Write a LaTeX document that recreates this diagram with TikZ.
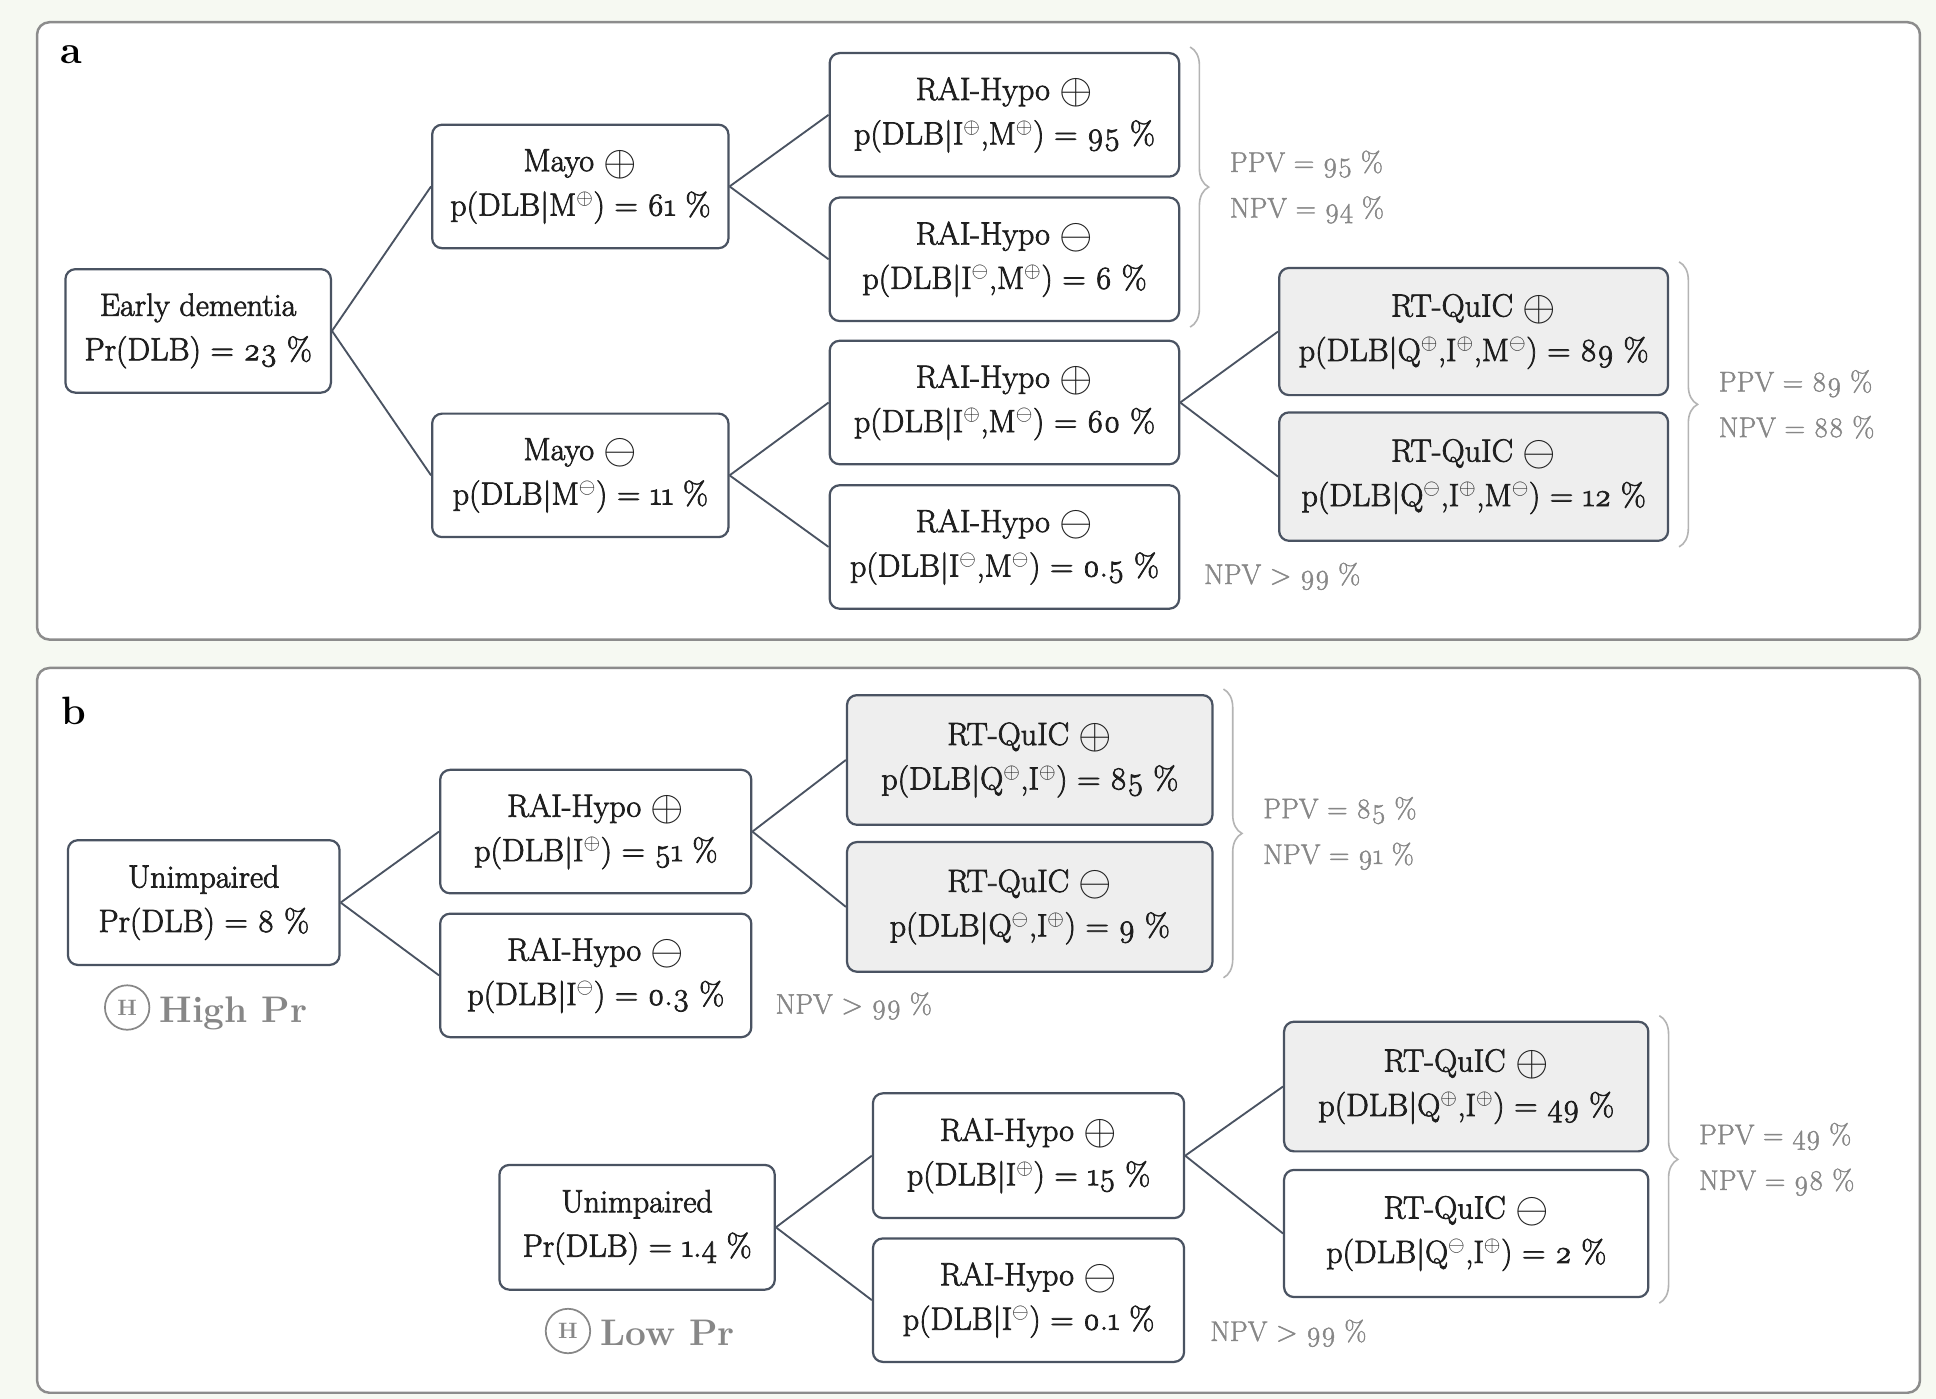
\documentclass[tikz,border=0pt]{standalone}
\usepackage{fontspec}
\setmainfont{Latin Modern Roman}[Numbers=OldStyle]
\newfontfamily\heavyrm{Latin Modern Roman}[Numbers=OldStyle, UprightFeatures={FakeBold=2.2}]
\newfontfamily\semirm{Latin Modern Roman}[Numbers=OldStyle, UprightFeatures={FakeBold=1.4}]
\usetikzlibrary{decorations.pathreplacing,calc}
\definecolor{bgc}{RGB}{246,249,242}
\definecolor{panelc}{RGB}{140,140,140}
\definecolor{nodeline}{RGB}{74,83,98}
\definecolor{connc}{RGB}{74,83,98}
\definecolor{grayfill}{RGB}{238,238,238}
\definecolor{textc}{RGB}{30,30,30}
\definecolor{sidec}{RGB}{135,135,135}
\definecolor{bracec}{RGB}{180,180,180}
\newcommand\BigP{\raisebox{-0.12em}{\scalebox{1.4}{$\oplus$}}}
\newcommand\BigM{\raisebox{-0.12em}{\scalebox{1.4}{$\ominus$}}}
\newcommand\SupP{\textsuperscript{$\oplus$}}
\newcommand\SupM{\textsuperscript{$\ominus$}}
\tikzset{
  panel/.style={draw=panelc, line width=2pt, rounded corners=10pt, fill=white},
  box/.style={draw=nodeline, line width=1.8pt, rounded corners=8pt, fill=white, align=center,
    inner sep=0pt, text=textc, font=\heavyrm\fontsize{26}{36}\selectfont},
  gbox/.style={box, fill=grayfill},
  conn/.style={draw=connc, line width=1.5pt},
  brc/.style={draw=bracec, line width=1.3pt, decorate, decoration={brace, amplitude=15pt}},
  side/.style={text=sidec, align=left, inner sep=0pt, font=\semirm\fontsize{23}{37}\selectfont},
  hcirc/.style={circle, draw=sidec, line width=1.4pt, minimum size=36pt, inner sep=0pt,
    text=sidec, font=\fontsize{18}{18}\selectfont\bfseries},
  prlab/.style={text=sidec, inner sep=0pt, font=\fontsize{30}{30}\selectfont\bfseries},
  plabel/.style={inner sep=0pt, text=black, font=\fontsize{32}{32}\selectfont\bfseries},
}
\begin{document}
\begin{tikzpicture}[x=1pt,y=-1pt]
\path[use as bounding box, fill=bgc] (0,0) rectangle (1568,1133);
% panels
\draw[panel] (30,18) rectangle (1555,518);
\draw[panel] (30,541) rectangle (1555,1128);
\node[plabel] (la) at (58,44) {a};
\node[plabel] (lb) at (60,576) {b};

% ---------- panel a ----------
\node[box, minimum width=215pt, minimum height=100pt] (ed) at (160.5,268) {Early dementia\\Pr(DLB) = 23~\%};
\node[box, minimum width=240pt, minimum height=100pt] (mayoP) at (470,151) {Mayo \BigP\\p(DLB|M\SupP) = 61~\%};
\node[box, minimum width=240pt, minimum height=100pt] (mayoM) at (470,385) {Mayo \BigM\\p(DLB|M\SupM) = 11~\%};
\node[box, minimum width=283pt, minimum height=100pt] (raiPP) at (813.5,93) {RAI-Hypo \BigP\\p(DLB|I\SupP,M\SupP) = 95~\%};
\node[box, minimum width=283pt, minimum height=100pt] (raiMP) at (813.5,210) {RAI-Hypo \BigM\\p(DLB|I\SupM,M\SupP) = 6~\%};
\node[box, minimum width=283pt, minimum height=100pt] (raiPM) at (813.5,326) {RAI-Hypo \BigP\\p(DLB|I\SupP,M\SupM) = 60~\%};
\node[box, minimum width=283pt, minimum height=100pt] (raiMM) at (813.5,443) {RAI-Hypo \BigM\\p(DLB|I\SupM,M\SupM) = 0.5~\%};
\node[gbox, minimum width=315pt, minimum height=103pt] (rtP) at (1193.5,268.5) {RT-QuIC \BigP\\p(DLB|Q\SupP,I\SupP,M\SupM) = 89~\%};
\node[gbox, minimum width=315pt, minimum height=104pt] (rtM) at (1193.5,386) {RT-QuIC \BigM\\p(DLB|Q\SupM,I\SupP,M\SupM) = 12~\%};

\draw[conn] (ed.east) -- (mayoP.west);
\draw[conn] (ed.east) -- (mayoM.west);
\draw[conn] (mayoP.east) -- (raiPP.west);
\draw[conn] (mayoP.east) -- (raiMP.west);
\draw[conn] (mayoM.east) -- (raiPM.west);
\draw[conn] (mayoM.east) -- (raiMM.west);
\draw[conn] (raiPM.east) -- (rtP.west);
\draw[conn] (raiPM.east) -- (rtM.west);

\draw[brc] ($(raiPP.north east)+(8,-4)$) -- ($(raiMP.south east)+(8,4)$);
\node[side, anchor=west] (pvA1) at ($(raiPP.north east)!0.5!(raiMP.south east)+(40,0)$) {PPV = 95~\%\\NPV = 94~\%};
\draw[brc] ($(rtP.north east)+(8,-4)$) -- ($(rtM.south east)+(8,4)$);
\node[side, anchor=west] (pvA2) at ($(rtP.north east)!0.5!(rtM.south east)+(40,0)$) {PPV = 89~\%\\NPV = 88~\%};
\node[side, anchor=base west] (npvA) at (975,473) {NPV > 99~\%};

% ---------- panel b, high ----------
\node[box, minimum width=220pt, minimum height=101pt] (uh) at (165,731) {Unimpaired\\Pr(DLB) = 8~\%};
\node[box, minimum width=252pt, minimum height=100pt] (hraiP) at (482.5,673.5) {RAI-Hypo \BigP\\p(DLB|I\SupP) = 51~\%};
\node[box, minimum width=252pt, minimum height=100pt] (hraiM) at (482.5,790) {RAI-Hypo \BigM\\p(DLB|I\SupM) = 0.3~\%};
\node[gbox, minimum width=296pt, minimum height=105pt] (hrtP) at (834,615.5) {RT-QuIC \BigP\\p(DLB|Q\SupP,I\SupP) = 85~\%};
\node[gbox, minimum width=296pt, minimum height=105pt] (hrtM) at (834,734.5) {RT-QuIC \BigM\\p(DLB|Q\SupM,I\SupP) = 9~\%};

\draw[conn] (uh.east) -- (hraiP.west);
\draw[conn] (uh.east) -- (hraiM.west);
\draw[conn] (hraiP.east) -- (hrtP.west);
\draw[conn] (hraiP.east) -- (hrtM.west);

\draw[brc] ($(hrtP.north east)+(8,-4)$) -- ($(hrtM.south east)+(8,4)$);
\node[side, anchor=west] (pvB1) at ($(hrtP.north east)!0.5!(hrtM.south east)+(40,0)$) {PPV = 85~\%\\NPV = 91~\%};
\node[side, anchor=base west] (npvH) at (628,821) {NPV > 99~\%};

\node[hcirc] (hcH) at (103,816) {H};
\node[prlab, anchor=base west] (hpH) at (129,828) {High Pr};

% ---------- panel b, low ----------
\node[box, minimum width=223pt, minimum height=101pt] (ul) at (516,994) {Unimpaired\\Pr(DLB) = 1.4~\%};
\node[box, minimum width=252pt, minimum height=101pt] (lraiP) at (833,936) {RAI-Hypo \BigP\\p(DLB|I\SupP) = 15~\%};
\node[box, minimum width=252pt, minimum height=100pt] (lraiM) at (833,1053) {RAI-Hypo \BigM\\p(DLB|I\SupM) = 0.1~\%};
\node[gbox, minimum width=295pt, minimum height=105pt] (lrtP) at (1187.5,880) {RT-QuIC \BigP\\p(DLB|Q\SupP,I\SupP) = 49~\%};
\node[box, minimum width=295pt, minimum height=103pt] (lrtM) at (1187.5,999) {RT-QuIC \BigM\\p(DLB|Q\SupM,I\SupP) = 2~\%};

\draw[conn] (ul.east) -- (lraiP.west);
\draw[conn] (ul.east) -- (lraiM.west);
\draw[conn] (lraiP.east) -- (lrtP.west);
\draw[conn] (lraiP.east) -- (lrtM.west);

\draw[brc] ($(lrtP.north east)+(8,-4)$) -- ($(lrtM.south east)+(8,4)$);
\node[side, anchor=west] (pvB2) at ($(lrtP.north east)!0.5!(lrtM.south east)+(40,0)$) {PPV = 49~\%\\NPV = 98~\%};
\node[side, anchor=base west] (npvL) at (980,1086) {NPV > 99~\%};

\node[hcirc] (hcL) at (460,1078) {H};
\node[prlab, anchor=base west] (hpL) at (486,1090) {Low Pr};
\end{tikzpicture}
\end{document}
